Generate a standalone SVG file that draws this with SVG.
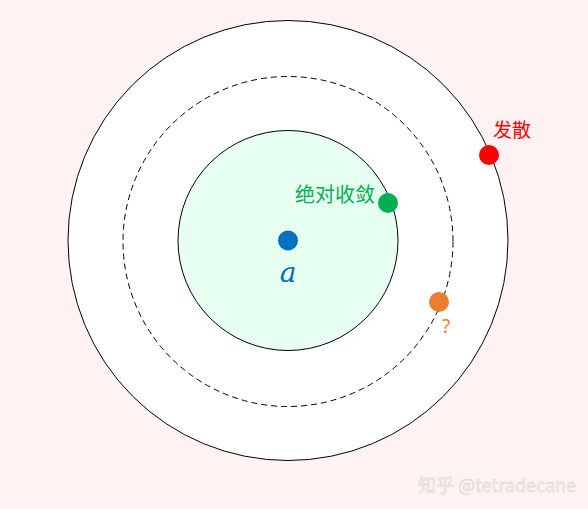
<svg xmlns="http://www.w3.org/2000/svg" width="588" height="509" viewBox="0 0 588 509">
<style>
.ring{fill:none;stroke:#000;stroke-width:1}
.lbl{font-family:"Noto Sans CJK SC","Noto Sans",sans-serif}
</style>
<rect width="588" height="509" fill="#fff2f2"/>
<g id="outer"><circle cx="288" cy="240.5" r="220" fill="#fff" stroke="#000" stroke-width="1"/></g>
<g id="dashed"><circle cx="288" cy="241.5" r="165" class="ring" stroke-dasharray="6,4"/></g>
<g id="inner"><circle cx="288" cy="240.5" r="110" fill="#e6fff0" stroke="#000" stroke-width="1"/></g>
<g id="center"><circle cx="288" cy="240.5" r="10" fill="#0070c0"/>
<text x="288" y="282" text-anchor="middle" font-family="DejaVu Serif,serif" font-style="italic" font-size="28" fill="#0070c0">a</text></g>
<g id="converge"><circle cx="388" cy="203" r="10" fill="#00b050"/>
<text x="375" y="202" text-anchor="end" class="lbl" font-size="20" fill="#00b050">绝对收敛</text></g>
<g id="diverge"><circle cx="489" cy="155" r="10" fill="#ff0000"/>
<text x="493" y="137" class="lbl" font-size="19" fill="#ff0000">发散</text></g>
<g id="unknown"><circle cx="439" cy="302" r="10" fill="#ed7d31"/>
<text x="442" y="333" font-family="Noto Sans,sans-serif" font-size="19" fill="#ed7d31">?</text></g>
<text x="418" y="492" font-family="Noto Sans CJK SC,Noto Sans,sans-serif" font-size="18" fill="#f2eaea" stroke="#cfcaca" stroke-width="0.3">知乎 @tetradecane</text>
</svg>
